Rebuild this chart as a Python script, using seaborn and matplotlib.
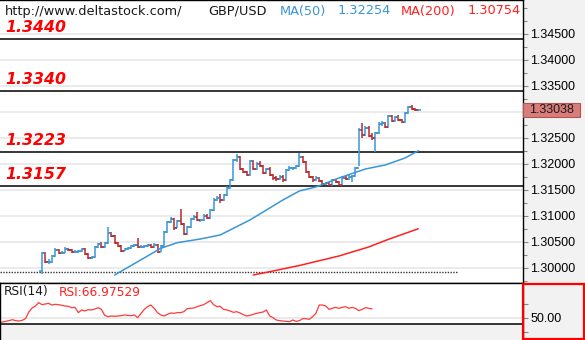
import numpy as np
import pandas as pd
import matplotlib
matplotlib.use("Agg")
import matplotlib.pyplot as plt
import seaborn as sns
from matplotlib.patches import Rectangle
from matplotlib.transforms import blended_transform_factory
from matplotlib.ticker import MultipleLocator

# ---------------- data ----------------
first_open = 1.29942
closes = [1.30288, 1.30115, 1.30115, 1.30231, 1.30346, 1.30288, 1.30288, 1.30365, 1.30346, 1.30308,
          1.30308, 1.30327, 1.30365, 1.30269, 1.30192, 1.30212, 1.30404, 1.30462, 1.30404, 1.30481,
          1.30673, 1.30615, 1.30481, 1.30423, 1.30327, 1.30365, 1.30385, 1.30423, 1.30442, 1.30404,
          1.30404, 1.30423, 1.30442, 1.30404, 1.30442, 1.30308, 1.30423, 1.30692, 1.30885, 1.30942,
          1.30769, 1.30904, 1.30846, 1.30654, 1.30788, 1.30942, 1.30981, 1.30923, 1.30923, 1.31000,
          1.30962, 1.31115, 1.31308, 1.31346, 1.31308, 1.31404, 1.31538, 1.31692, 1.32077, 1.32135,
          1.31904, 1.31846, 1.31788, 1.32058, 1.31904, 1.32000, 1.31962, 1.31827, 1.31904, 1.31788,
          1.31731, 1.31712, 1.31750, 1.31692, 1.31885, 1.31923, 1.31923, 1.31962, 1.32135, 1.32038,
          1.31846, 1.31750, 1.31692, 1.31731, 1.31673, 1.31615, 1.31635, 1.31596, 1.31692, 1.31654,
          1.31596, 1.31731, 1.31712, 1.31750, 1.31769, 1.31923, 1.32654, 1.32558, 1.32692, 1.32538,
          1.32500, 1.32596, 1.32769, 1.32788, 1.32712, 1.32923, 1.32827, 1.32904, 1.32846, 1.32808,
          1.32981, 1.33096, 1.33058, 1.33038, 1.33038]
highs = [1.30310, 1.30300, 1.30170, 1.30250, 1.30380, 1.30365, 1.30320, 1.30400, 1.30390, 1.30360,
         1.30340, 1.30350, 1.30385, 1.30380, 1.30280, 1.30240, 1.30430, 1.30490, 1.30500, 1.30500,
         1.30788, 1.30700, 1.30630, 1.30500, 1.30440, 1.30390, 1.30410, 1.30450, 1.30470, 1.30577,
         1.30440, 1.30450, 1.30470, 1.30460, 1.30480, 1.30460, 1.30450, 1.30720, 1.30910, 1.30980,
         1.30960, 1.30930, 1.31135, 1.30860, 1.30810, 1.30970, 1.31010, 1.31080, 1.30950, 1.31030,
         1.31040, 1.31140, 1.31340, 1.31380, 1.31420, 1.31430, 1.31570, 1.31720, 1.32100, 1.32192,
         1.32150, 1.31930, 1.31860, 1.32080, 1.32070, 1.32030, 1.32060, 1.31980, 1.31930, 1.31950,
         1.31800, 1.31760, 1.31780, 1.31780, 1.31910, 1.31960, 1.31950, 1.31990, 1.32212, 1.32160,
         1.32060, 1.31870, 1.31770, 1.31760, 1.31750, 1.31690, 1.31660, 1.31660, 1.31720, 1.31710,
         1.31670, 1.31760, 1.31760, 1.31780, 1.31790, 1.31950, 1.32690, 1.32788, 1.32730, 1.32740,
         1.32600, 1.32620, 1.32800, 1.32820, 1.32810, 1.32950, 1.32940, 1.32930, 1.32940, 1.32860,
         1.33000, 1.33120, 1.33130, 1.33070, 1.33060]
lows = [1.29885, 1.30096, 1.30077, 1.30100, 1.30215, 1.30270, 1.30260, 1.30280, 1.30320, 1.30290,
        1.30280, 1.30290, 1.30310, 1.30250, 1.30170, 1.30180, 1.30200, 1.30390, 1.30385, 1.30390,
        1.30460, 1.30590, 1.30460, 1.30400, 1.30310, 1.30320, 1.30350, 1.30370, 1.30410, 1.30390,
        1.30380, 1.30390, 1.30400, 1.30385, 1.30390, 1.30290, 1.30300, 1.30410, 1.30670, 1.30860,
        1.30740, 1.30760, 1.30830, 1.30630, 1.30640, 1.30770, 1.30920, 1.30900, 1.30890, 1.30900,
        1.30940, 1.30950, 1.31100, 1.31280, 1.31250, 1.31290, 1.31380, 1.31520, 1.31680, 1.32040,
        1.31880, 1.31820, 1.31760, 1.31770, 1.31880, 1.31890, 1.31940, 1.31800, 1.31810, 1.31760,
        1.31700, 1.31680, 1.31690, 1.31660, 1.31680, 1.31860, 1.31890, 1.31900, 1.31940, 1.32010,
        1.31820, 1.31730, 1.31660, 1.31680, 1.31650, 1.31590, 1.31600, 1.31570, 1.31580, 1.31630,
        1.31570, 1.31590, 1.31690, 1.31700, 1.31654, 1.31750, 1.31960, 1.32500, 1.32540, 1.32510,
        1.32460, 1.32231, 1.32580, 1.32740, 1.32690, 1.32700, 1.32800, 1.32810, 1.32820, 1.32790,
        1.32790, 1.32970, 1.33040, 1.33010, 1.33020]

ma50_bar = [22, 29, 36, 41, 48, 54, 57, 63, 68, 73, 78, 83, 90, 98, 104, 110, 114]
ma50_val = [1.29865, 1.30121, 1.30379, 1.30487, 1.30558, 1.30635, 1.30731, 1.30923, 1.31115,
            1.31308, 1.31481, 1.31558, 1.31731, 1.31904, 1.31981, 1.32115, 1.32254]
ma200_bar = [64, 69, 78, 90, 99, 105, 114]
ma200_val = [1.29865, 1.29929, 1.30048, 1.30231, 1.30404, 1.30552, 1.30754]

rsi_first_bar = -13
rsi_vals = [41.4, 42.6, 43.8, 45.1, 46.9, 45.1, 44.4, 45.7, 48.8, 61.1,
            68.5, 72.2, 78.4, 74.7, 75.9, 77.1, 74.0, 75.3, 74.7, 73.4,
            72.2, 71.6, 69.1, 69.7, 59.9, 64.8, 63.0, 65.4, 64.8, 66.6,
            69.1, 66.0, 54.9, 52.5, 53.7, 53.1, 53.7, 54.3, 55.6, 54.9,
            54.3, 55.6, 50.6, 58.6, 66.0, 71.0, 74.0, 67.9, 59.9, 55.6,
            53.7, 56.8, 59.3, 58.6, 59.9, 59.9, 61.7, 67.3, 67.9, 68.5,
            71.0, 72.8, 74.7, 78.4, 82.1, 74.7, 71.0, 71.6, 66.0, 64.8,
            63.0, 60.5, 61.7, 59.3, 56.2, 53.7, 54.9, 56.8, 58.6, 59.9,
            61.1, 64.8, 53.7, 50.6, 46.3, 45.1, 44.4, 43.8, 43.2, 46.3,
            43.8, 45.1, 48.8, 48.8, 47.5, 52.5, 58.6, 74.0, 74.0, 72.2,
            66.0, 67.9, 69.7, 67.9, 69.7, 71.0, 67.9, 69.7, 67.9, 63.6,
            66.0, 69.1, 67.9, 66.98]

levels = [1.3440, 1.3340, 1.3223, 1.3157]
level_labels = ["1.3440", "1.3340", "1.3223", "1.3157"]
price_ticks = [1.300, 1.305, 1.310, 1.315, 1.320, 1.325, 1.330, 1.335, 1.340, 1.345]
price_tick_labels = ["1.30000", "1.30500", "1.31000", "1.31500", "1.32000",
                     "1.32500", "1.33000", "1.33500", "1.34000", "1.34500"]
last_price = 1.33038
last_price_label = "1.33038"
ma50_label = "1.32254"
ma200_label = "1.30754"
rsi_label = "RSI:66.97529"
dotted_level = 1.29925
rsi_ticks = [25, 50, 75]
rsi_tick_labels = ["", "50.00", ""]

# ---------------- style ----------------
sns.set_theme(style="white")
plt.rcParams['font.family'] = ['DejaVu Sans']

BLUE = '#3a96d6'
RED_BAR = '#b8282c'
RED = '#ff2020'
BG = '#f2f2f2'

W, H = 585, 340
fig = plt.figure(figsize=(W / 100, H / 100), dpi=100, facecolor=BG)

main_bottom = 283
ax = fig.add_axes([0, (H - main_bottom) / H, 523 / W, main_bottom / H])
rax = fig.add_axes([0, 0, 523 / W, (H - main_bottom) / H])

XLIM = (-12.73, 145.76)
YLIM = (1.297115, 1.351538)

# ---------------- main panel ----------------
ax.set_facecolor('white')
ax.set_xlim(*XLIM)
ax.set_ylim(*YLIM)

for t in price_ticks:
    ax.axhline(t, color='#e8e8e8', lw=1.2, zorder=0)

ax.axhline(dotted_level, xmax=457 / 523, color='#333333', lw=1.0, ls=(0, (1, 1)), zorder=1)

for lv, lab in zip(levels, level_labels):
    ax.axhline(lv, color='black', lw=1.1, zorder=2)
    ax.annotate(lab, xy=(0, lv), xycoords=('axes fraction', 'data'),
                xytext=(3.6, 8.3), textcoords='offset points',
                color='#ff0000', fontsize=11.3, fontweight='bold', fontstyle='italic',
                va='center', ha='left', zorder=6)

df = pd.DataFrame({'close': closes, 'high': highs, 'low': lows})
df['open'] = [first_open] + closes[:-1]
df['bar'] = np.arange(len(df))
colors = np.where(df['close'] >= df['open'], BLUE, RED_BAR)
ax.vlines(df['bar'], df['low'], df['high'], colors=colors, lw=1.1, zorder=3)
ax.hlines(df['open'], df['bar'] - 0.8, df['bar'], colors=colors, lw=1.1, zorder=3)
ax.hlines(df['close'], df['bar'], df['bar'] + 0.8, colors=colors, lw=1.1, zorder=3)

sns.lineplot(x=ma50_bar, y=ma50_val, ax=ax, color=BLUE, lw=1.1, zorder=4)
sns.lineplot(x=ma200_bar, y=ma200_val, ax=ax, color=RED, lw=1.1, zorder=4)

ax.set_xticks([])
ax.yaxis.tick_right()
ax.set_yticks(price_ticks)
ax.set_yticklabels(price_tick_labels)
ax.yaxis.set_minor_locator(MultipleLocator(0.0025))
ax.tick_params(axis='y', which='major', right=True, length=3.6, width=0.8, color='#888888',
               labelsize=9, pad=1.5, labelcolor='black')
ax.tick_params(axis='y', which='minor', right=True, length=2.6, width=0.8, color='#888888')
for lab in ax.get_yticklabels():
    lab.set_fontfamily('Liberation Sans')
ax.set_xlabel('')
ax.set_ylabel('')
for side in ['top', 'bottom', 'right']:
    ax.spines[side].set_visible(True)
    ax.spines[side].set_color('black')
    ax.spines[side].set_linewidth(1.0)
ax.spines['left'].set_visible(False)

# current price tag
btr = blended_transform_factory(ax.transAxes, ax.transData)
ax.add_patch(Rectangle((1.0, last_price - 7 / 5200), 57 / 523, 14 / 5200, transform=btr,
                       facecolor='#d97d7b', edgecolor='#b45555', lw=0.8, clip_on=False, zorder=5))
ax.text(1.0 + 6 / 523, last_price, last_price_label, transform=btr, va='center', ha='left',
        fontsize=9, family='Liberation Sans', color='#1a1a1a', zorder=6, clip_on=False)

# ---------------- RSI panel ----------------
RSI_YLIM = (9.3, 114.75)
rax.set_xlim(*XLIM)
rax.set_ylim(*RSI_YLIM)
rax.set_facecolor('white')
rax.axhspan(RSI_YLIM[0], 38.9, color=BG, lw=0, zorder=0)
rax.axhline(50, color='#e6e6e6', lw=1.2, zorder=1)
rax.axhline(38.9, color='black', lw=1.1, zorder=3)
rsi_bar = np.arange(rsi_first_bar, rsi_first_bar + len(rsi_vals))
sns.lineplot(x=rsi_bar, y=rsi_vals, ax=rax, color='#ff3a3a', lw=0.9, zorder=2)
rax.set_xticks([])
rax.yaxis.tick_right()
rax.set_yticks(rsi_ticks)
rax.set_yticklabels(rsi_tick_labels)
rax.tick_params(axis='y', right=True, length=3.6, width=0.8, color='#888888',
                labelsize=9, pad=1.5, labelcolor='black')
for lab in rax.get_yticklabels():
    lab.set_fontfamily('Liberation Sans')
rax.set_xlabel('')
rax.set_ylabel('')
for side in ['top', 'left', 'right']:
    rax.spines[side].set_visible(True)
    rax.spines[side].set_color('black')
    rax.spines[side].set_linewidth(1.0)
rax.spines['bottom'].set_visible(False)

# red frame on the right of the RSI panel
fig.patches.append(Rectangle((522.5 / W, 1 / H), 61 / W, 55.5 / H, transform=fig.transFigure,
                             fill=False, edgecolor='#ff0000', lw=1.6, zorder=10))

# ---------------- header texts ----------------
def ftext(px, py, s, **kw):
    fig.text(px / W, 1 - py / H, s, va='center', ha='left', **kw)

ftext(5, 11, "http://www.deltastock.com/", fontsize=9.3, color='#1a1a1a')
ftext(208, 11, "GBP/USD", fontsize=9.3, color='#1a1a1a')
ftext(280, 11, "MA(50)", fontsize=9.3, color=BLUE)
ftext(338, 11, ma50_label, fontsize=9.3, color=BLUE)
ftext(401, 11, "MA(200)", fontsize=9.3, color=RED)
ftext(468, 11, ma200_label, fontsize=9.3, color=RED)
ftext(4, 292, "RSI(14)", fontsize=8.8, color='#1a1a1a')
ftext(59, 292, rsi_label, fontsize=8.8, color=RED)

fig.savefig('out.png', dpi=100, facecolor=BG)
